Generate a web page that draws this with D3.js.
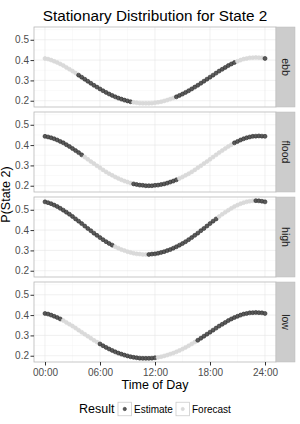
<!DOCTYPE html>
<html>
<head>
<meta charset="utf-8">
<script src="https://cdn.jsdelivr.net/npm/d3@7"></script>
<style>
    body { margin: 0; background: #fff; }
    svg text { font-family: "Liberation Sans", Arial, sans-serif; }
</style>
</head>
<body>
<svg id="chart" width="300" height="424"></svg>
<script>
// time of day, minutes after midnight
var minutes = [
    0, 20, 40, 60, 80, 100, 120, 140, 160, 180, 200, 220, 240, 260, 280, 300, 320, 340,
    360, 380, 400, 420, 440, 460, 480, 500, 520, 540, 560, 580, 600, 620, 640, 660, 680, 700,
    720, 740, 760, 780, 800, 820, 840, 860, 880, 900, 920, 940, 960, 980, 1000, 1020, 1040, 1060,
    1080, 1100, 1120, 1140, 1160, 1180, 1200, 1220, 1240, 1260, 1280, 1300, 1320, 1340, 1360, 1380,
    1400, 1420, 1440
];

var ebbValues = [
    .408, .405, .400, .394, .388, .381, .373, .364, .355, .346, .336, .326, .316, .306, .296, .286, .276,
    .267, .258, .249, .241, .233, .226, .219, .213, .208, .203, .199, .195, .192, .190, .188, .187, .187,
    .187, .188, .190, .192, .195, .199, .203, .208, .213, .219, .226, .233, .241, .249, .258, .267, .276,
    .286, .296, .306, .316, .326, .336, .346, .355, .364, .373, .381, .388, .394, .400, .405, .408, .411,
    .412, .413, .412, .411, .408
];

var floodValues = [
    .443, .440, .436, .431, .425, .418, .411, .402, .393, .383, .373, .363, .352, .341, .330, .319, .309,
    .298, .288, .278, .268, .259, .251, .243, .236, .229, .223, .218, .213, .209, .206, .203, .202, .200,
    .200, .200, .202, .203, .206, .209, .213, .218, .223, .229, .236, .243, .251, .259, .268, .278, .288,
    .298, .309, .319, .330, .341, .352, .363, .373, .383, .393, .402, .411, .418, .425, .431, .436, .440,
    .443, .444, .445, .444, .443
];

var highValues = [
    .539, .535, .530, .523, .516, .507, .498, .488, .478, .467, .455, .444, .432, .420, .408, .397, .385,
    .374, .363, .353, .343, .334, .326, .318, .311, .304, .299, .294, .290, .286, .283, .282, .280, .280,
    .280, .282, .283, .286, .290, .294, .299, .304, .311, .318, .326, .334, .343, .353, .363, .374, .385,
    .397, .408, .420, .432, .444, .455, .467, .478, .488, .498, .507, .516, .523, .530, .535, .539, .542,
    .544, .545, .544, .542, .539
];

var lowValues = [
    .408, .405, .400, .394, .388, .381, .373, .364, .355, .346, .336, .326, .316, .306, .296, .286, .276,
    .267, .258, .249, .241, .233, .226, .219, .213, .208, .203, .199, .195, .192, .190, .188, .187, .187,
    .187, .188, .190, .192, .195, .199, .203, .208, .213, .219, .226, .233, .241, .249, .258, .267, .276,
    .286, .296, .306, .316, .326, .336, .346, .355, .364, .373, .381, .388, .394, .400, .405, .408, .411,
    .412, .413, .412, .411, .408
];

// stretches of the day (minutes) that are estimates, the rest is forecast
var ebbEstimate = [[220, 560], [860, 1240], [1440, 1440]];
var floodEstimate = [[0, 240], [580, 860], [1240, 1440]];
var highEstimate = [[0, 440], [680, 1120], [1380, 1440]];
var lowEstimate = [[0, 100], [360, 720], [1000, 1440]];

var states = ['ebb', 'flood', 'high', 'low'];
var results = ['Estimate', 'Forecast'];
var yTicks = [0.2, 0.3, 0.4, 0.5];
var yMinor = [0.25, 0.35, 0.45, 0.55];
var xTicks = [0, 360, 720, 1080, 1440];
var xMinor = [180, 540, 900, 1260];
var xTickLabels = ['00:00', '06:00', '12:00', '18:00', '24:00'];

var series = {
    ebb: {values: ebbValues, estimate: ebbEstimate},
    flood: {values: floodValues, estimate: floodEstimate},
    high: {values: highValues, estimate: highEstimate},
    low: {values: lowValues, estimate: lowEstimate}
};

var colors = {Estimate: '#5a5a5a', Forecast: '#dadada'};
var strokes = {Estimate: '#2b2b2b', Forecast: '#d6d6d6'};

var padding = {left: 34, right: 276, top: 27};
var panelHeight = 80;
var panelGap = 5;
var stripWidth = 19;
var dotRadius = 2;

var svg = d3.select('#chart');

svg.append('rect')
    .attr('width', 300)
    .attr('height', 424)
    .attr('fill', '#fff');

var xExtent = d3.extent(minutes);
var xPad = (xExtent[1] - xExtent[0]) * 0.05;
var xScale = d3.scaleLinear()
                .domain([xExtent[0] - xPad, xExtent[1] + xPad])
                .range([padding.left, padding.right]);

var allValues = ebbValues.concat(floodValues, highValues, lowValues);
var yExtent = d3.extent(allValues);
var yPad = (yExtent[1] - yExtent[0]) * 0.05;

function resultOf(m, stretches) {
    return stretches.some(s => m >= s[0] && m <= s[1]) ? 'Estimate' : 'Forecast';
}

states.forEach(function(state, i) {
    var top = padding.top + i * (panelHeight + panelGap);
    var yScale = d3.scaleLinear()
                    .domain([yExtent[0] - yPad, yExtent[1] + yPad])
                    .range([top + panelHeight, top]);

    var g = svg.append('g').classed('panel', true);

    // grid
    g.selectAll('.minor-y')
        .data(yMinor)
        .enter()
        .append('line')
            .attr('x1', padding.left)
            .attr('x2', padding.right)
            .attr('y1', d => yScale(d))
            .attr('y2', d => yScale(d))
            .attr('stroke', '#f4f4f4')
            .attr('stroke-width', 0.5);

    g.selectAll('.minor-x')
        .data(xMinor)
        .enter()
        .append('line')
            .attr('x1', d => xScale(d))
            .attr('x2', d => xScale(d))
            .attr('y1', top)
            .attr('y2', top + panelHeight)
            .attr('stroke', '#f4f4f4')
            .attr('stroke-width', 0.5);

    g.selectAll('.major-y')
        .data(yTicks)
        .enter()
        .append('line')
            .attr('x1', padding.left)
            .attr('x2', padding.right)
            .attr('y1', d => yScale(d))
            .attr('y2', d => yScale(d))
            .attr('stroke', '#e6e6e6')
            .attr('stroke-width', 0.6);

    g.selectAll('.major-x')
        .data(xTicks)
        .enter()
        .append('line')
            .attr('x1', d => xScale(d))
            .attr('x2', d => xScale(d))
            .attr('y1', top)
            .attr('y2', top + panelHeight)
            .attr('stroke', '#e6e6e6')
            .attr('stroke-width', 0.6);

    var points = minutes.map((m, j) => ({
        minute: m,
        value: series[state].values[j],
        result: resultOf(m, series[state].estimate)
    }));

    g.selectAll('.dot')
        .data(points)
        .enter()
        .append('circle')
            .classed('dot', true)
            .attr('cx', d => xScale(d.minute))
            .attr('cy', d => yScale(d.value))
            .attr('r', dotRadius)
            .attr('fill', d => colors[d.result])
            .attr('stroke', d => strokes[d.result])
            .attr('stroke-width', 0.6);

    g.append('rect')
        .attr('x', padding.left)
        .attr('y', top)
        .attr('width', padding.right - padding.left)
        .attr('height', panelHeight)
        .attr('fill', 'none')
        .attr('stroke', '#b8b8b8')
        .attr('stroke-width', 0.8);

    // facet strip
    g.append('rect')
        .attr('x', padding.right)
        .attr('y', top)
        .attr('width', stripWidth)
        .attr('height', panelHeight)
        .attr('fill', '#cccccc')
        .attr('stroke', '#bdbdbd')
        .attr('stroke-width', 0.5);

    g.append('text')
        .attr('transform', `translate(${padding.right + stripWidth / 2}, ${top + panelHeight / 2}) rotate(90)`)
        .attr('dy', '0.35em')
        .style('font-size', '10.5px')
        .style('fill', '#1a1a1a')
        .style('text-anchor', 'middle')
        .text(state);

    var yAxis = d3.axisLeft(yScale)
                    .tickValues(yTicks)
                    .tickSize(3.5)
                    .tickPadding(1.5)
                    .tickFormat(d3.format('.1f'));

    var ya = g.append('g')
        .attr('transform', `translate(${padding.left}, 0)`)
        .call(yAxis);
    ya.select('.domain').remove();
    ya.selectAll('line').attr('stroke', '#333');
    ya.selectAll('text').style('font-size', '10px').style('fill', '#4d4d4d');

    if (i === states.length - 1) {
        var xAxis = d3.axisBottom(xScale)
                        .tickValues(xTicks)
                        .tickSize(3.5)
                        .tickPadding(3)
                        .tickFormat((d, k) => xTickLabels[k]);

        var xa = g.append('g')
            .attr('transform', `translate(0, ${top + panelHeight})`)
            .call(xAxis);
        xa.select('.domain').remove();
        xa.selectAll('line').attr('stroke', '#333');
        xa.selectAll('text').style('font-size', '10px').style('fill', '#4d4d4d');
    }
});

var panelsBottom = padding.top + states.length * panelHeight + (states.length - 1) * panelGap;
var midX = (padding.left + padding.right) / 2;

svg.append('text')
    .attr('x', midX)
    .attr('y', 21)
    .style('font-size', '15.3px')
    .style('fill', '#000')
    .style('text-anchor', 'middle')
    .text('Stationary Distribution for State 2');

svg.append('text')
    .attr('x', midX)
    .attr('y', panelsBottom + 27)
    .style('font-size', '12.5px')
    .style('fill', '#000')
    .style('text-anchor', 'middle')
    .text('Time of Day');

svg.append('text')
    .attr('transform', `translate(10, ${(padding.top + panelsBottom) / 2}) rotate(-90)`)
    .style('font-size', '12.5px')
    .style('fill', '#000')
    .style('text-anchor', 'middle')
    .text('P(State 2)');

// legend
var legend = svg.append('g')
    .attr('transform', 'translate(79, 409)');

legend.append('text')
    .attr('x', 0)
    .attr('dy', '0.35em')
    .style('font-size', '12.5px')
    .text('Result');

var keyX = [39, 97];
var keySize = 13.5;

var keys = legend.selectAll('.key')
    .data(results)
    .enter()
    .append('g')
        .classed('key', true)
        .attr('transform', (d, k) => `translate(${keyX[k]}, 0)`);

keys.append('rect')
    .attr('x', 0)
    .attr('y', -keySize / 2)
    .attr('width', keySize)
    .attr('height', keySize)
    .attr('fill', '#fff')
    .attr('stroke', '#cccccc')
    .attr('stroke-width', 0.8);

keys.append('circle')
    .attr('cx', keySize / 2)
    .attr('cy', 0)
    .attr('r', 1.7)
    .attr('fill', d => colors[d])
    .attr('stroke', d => strokes[d])
    .attr('stroke-width', 0.5);

keys.append('text')
    .attr('x', keySize + 2.5)
    .attr('dy', '0.35em')
    .style('font-size', '10px')
    .text(d => d);
</script>
</body>
</html>
